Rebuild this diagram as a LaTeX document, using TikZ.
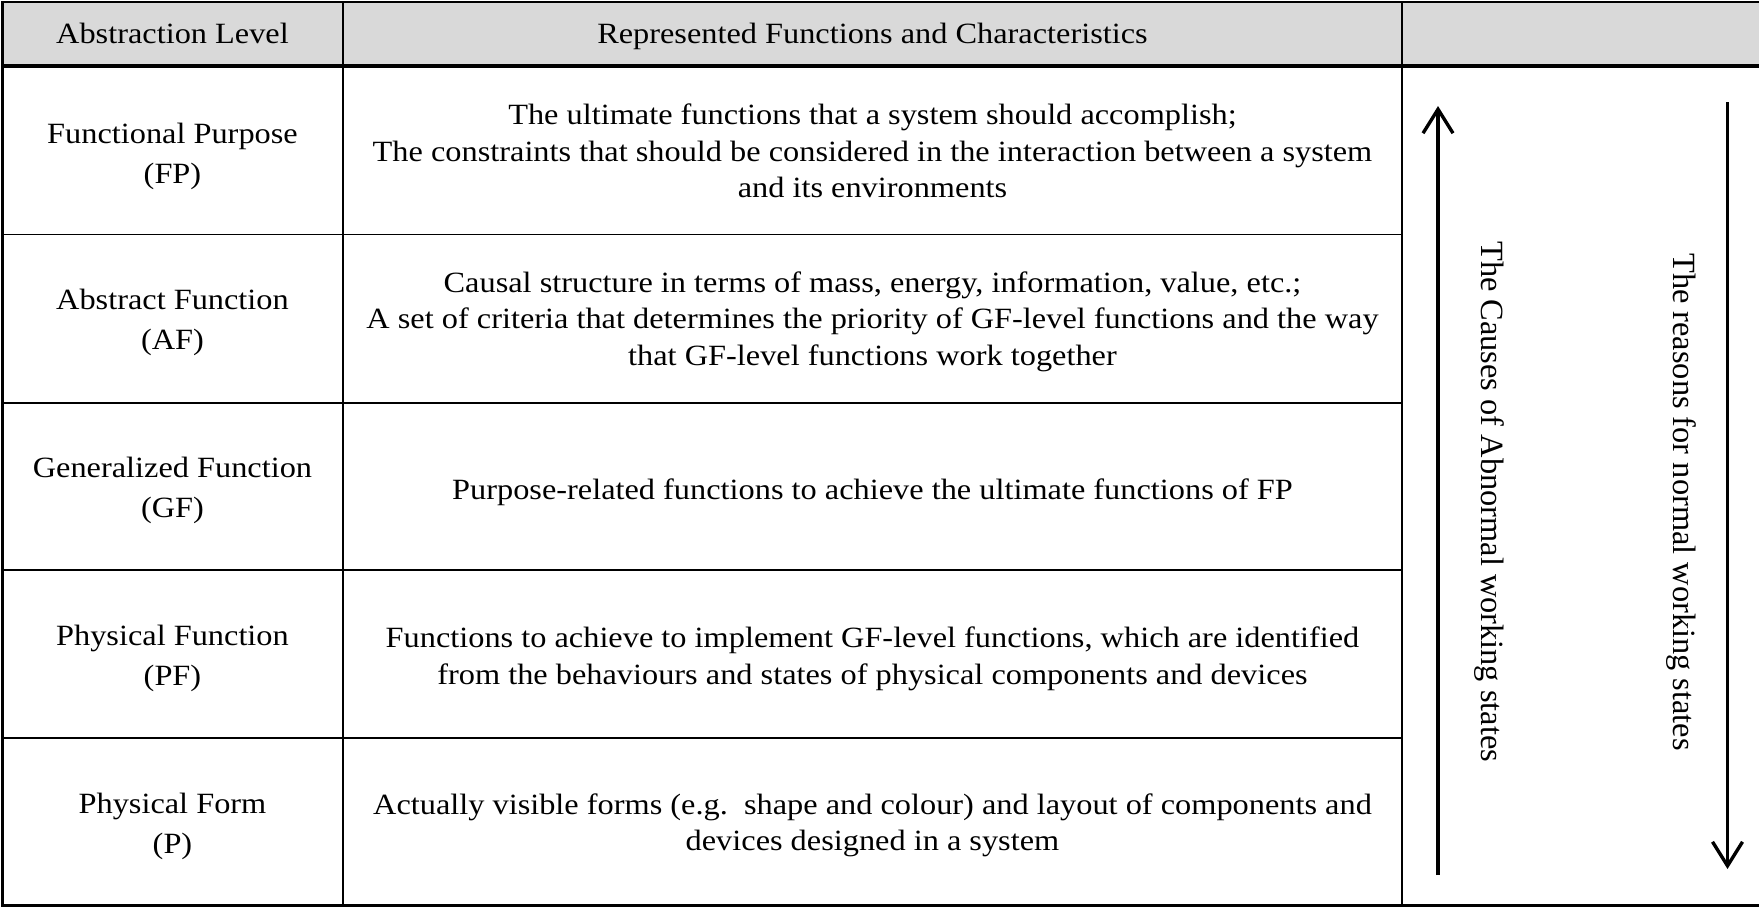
\documentclass[tikz,border=0pt]{standalone}
\usepackage{fontspec}
\setmainfont[FakeStretch=1.1]{Liberation Serif}
\newfontfamily\captionface{Liberation Serif}
\usetikzlibrary{arrows.meta}
\definecolor{headgray}{HTML}{D9D9D9}
\tikzset{
  frame rule/.style={line width=1.2pt, line cap=rect},
  head rule/.style={line width=2.2pt},
  grid rule/.style={line width=0.9pt},
  levelcell/.style={align=center, inner sep=0pt, font=\fontsize{14.7}{20}\selectfont},
  desccell/.style={align=center, inner sep=0pt, font=\fontsize{14.7}{18.25}\selectfont},
  headcell/.style={anchor=base, inner sep=0pt, font=\fontsize{14.7}{18}\selectfont},
  sidetext/.style={rotate=-90, anchor=base, inner sep=0pt, font=\captionface\fontsize{16.2}{19}\selectfont},
  flow/.style={line width=1.7pt, -{Straight Barb[length=12pt,width=15pt,line width=1.7pt]}}
}
\begin{document}
\begin{tikzpicture}[x=0.5pt,y=-0.5pt]
\useasboundingbox (0,0) rectangle (1759,907);

% header band
\fill[headgray] (2,2) rectangle (1759,66);

% row separators (first two columns only)
\foreach \yy in {234.5,403,570,738}
  \draw[grid rule] (2,\yy) -- (1402,\yy);

% column separators
\draw[grid rule] (343,2) -- (343,905.5);
\draw[grid rule] (1402,2) -- (1402,905.5);

% outer frame and header rule
\draw[frame rule] (1759,2) -- (2.5,2) -- (2.5,905.5) -- (1759,905.5);
\draw[head rule] (2,66) -- (1759,66);

% header texts
\node[headcell] (hLevel) at (172.5,43.5) {Abstraction Level};
\node[headcell] (hDesc) at (872.5,43.5) {Represented Functions and Characteristics};

% abstraction levels
\node[levelcell] (lFP) at (172.5,156) {Functional Purpose\\(FP)};
\node[levelcell] (lAF) at (172.5,322) {Abstract Function\\(AF)};
\node[levelcell] (lGF) at (172.5,490) {Generalized Function\\(GF)};
\node[levelcell] (lPF) at (172.5,658) {Physical Function\\(PF)};
\node[levelcell] (lP)  at (172.5,826) {Physical Form\\(P)};

% descriptions
\node[desccell] (dFP) at (872.5,151) {The ultimate functions that a system should accomplish;\\The constraints that should be considered in the interaction between a system\\and its environments};
\node[desccell] (dAF) at (872.5,321.5) {Causal structure in terms of mass, energy, information, value, etc.;\\A set of criteria that determines the priority of GF-level functions and the way\\that GF-level functions work together};
\node[desccell] (dGF) at (872.5,492) {Purpose-related functions to achieve the ultimate functions of FP};
\node[desccell] (dPF) at (872.5,659) {Functions to achieve to implement GF-level functions, which are identified\\from the behaviours and states of physical components and devices};
\node[desccell] (dP)  at (872.5,825.5) {Actually visible forms (e.g.\ \ shape and colour) and layout of components and\\devices designed in a system};

% direction arrows
\coordinate (upFrom) at (1438,875);
\coordinate (upTo) at (1438,106);
\coordinate (downFrom) at (1727.5,102);
\coordinate (downTo) at (1727.5,869);
\draw[flow] (upFrom) -- (upTo);
\draw[flow] (downFrom) -- (downTo);

% side captions
\node[sidetext] (causes) at (1481,501.7) {The Causes of Abnormal working states};
\node[sidetext] (reasons) at (1673,502) {The reasons for normal working states};
\end{tikzpicture}
\end{document}
